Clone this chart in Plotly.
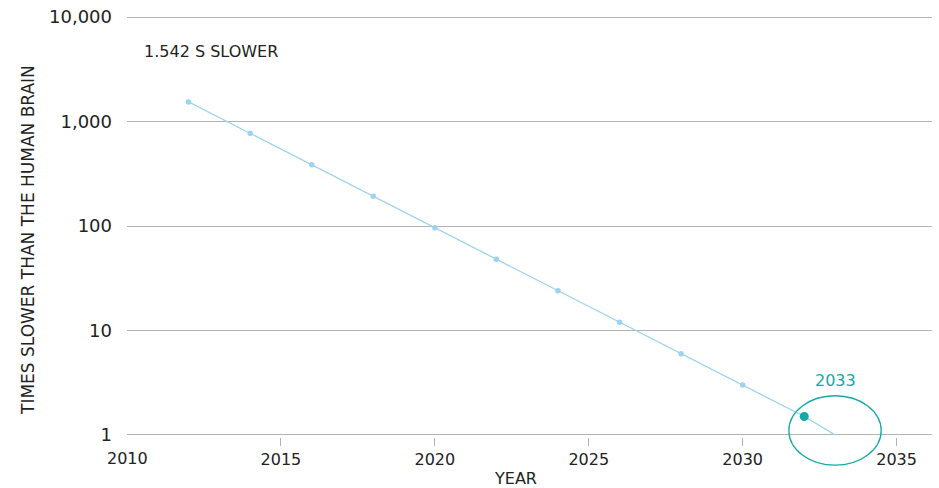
import plotly.graph_objects as go

# 데이터
years = [2012, 2014, 2016, 2018, 2020, 2022, 2024, 2026, 2028, 2030]
times_slower = [1542, 771, 385, 193, 96, 48, 24, 12, 6, 3]
trend_years = [2012, 2014, 2016, 2018, 2020, 2022, 2024, 2026, 2028, 2030, 2032, 2033]
trend_values = [1542, 771, 385, 193, 96, 48, 24, 12, 6, 3, 1.5, 1]
highlight_year = [2032]
highlight_value = [1.5]
y_ticks = [1, 10, 100, 1000, 10000]
y_ticktext = ['1', '10', '100', '1,000', '10,000']
x_ticks = [2015, 2020, 2025, 2030, 2035]

X_RANGE = [2010, 2036.15]
Y_RANGE = [-0.02, 4.02]  # log10, 양 끝 눈금선이 보이도록 여유

LINE_BLUE = '#9dd3ee'
TEAL = '#13aaa6'
GRID = '#b3b3b3'
FONT = 'DejaVu Sans'
TEXT = '#222222'

fig = go.Figure()

fig.add_trace(go.Scatter(x=trend_years, y=trend_values, mode='lines',
                         line=dict(color=LINE_BLUE, width=1.3),
                         hoverinfo='skip', showlegend=False))
fig.add_trace(go.Scatter(x=years, y=times_slower, mode='markers',
                         marker=dict(color=LINE_BLUE, size=5.5),
                         showlegend=False))
fig.add_trace(go.Scatter(x=highlight_year, y=highlight_value, mode='markers',
                         marker=dict(color=TEAL, size=9),
                         cliponaxis=False, showlegend=False))


def to_paper_x(v):
    return (v - X_RANGE[0]) / (X_RANGE[1] - X_RANGE[0])


def to_paper_y(logv):
    return (logv - Y_RANGE[0]) / (Y_RANGE[1] - Y_RANGE[0])


# 2033 강조 원 (플롯 영역 밖까지 그려지도록 paper 좌표 사용)
fig.add_shape(type='circle', xref='paper', yref='paper',
              x0=to_paper_x(2031.5), x1=to_paper_x(2034.5),
              y0=to_paper_y(-0.29), y1=to_paper_y(0.375),
              line=dict(color=TEAL, width=1.3))

fig.add_annotation(x=2033, y=0.517, xref='x', yref='y', text='2033',
                   showarrow=False, xanchor='center', yanchor='middle',
                   font=dict(family=FONT, size=16, color=TEAL))
fig.add_annotation(x=to_paper_x(2010.49), y=to_paper_y(3.675),
                   xref='paper', yref='paper',
                   text='1.542 S SLOWER', showarrow=False,
                   xanchor='left', yanchor='middle',
                   font=dict(family=FONT, size=16, color=TEXT))
fig.add_annotation(x=to_paper_x(2022.63), y=to_paper_y(-0.42),
                   xref='paper', yref='paper', text='YEAR',
                   showarrow=False, xanchor='center', yanchor='middle',
                   font=dict(family=FONT, size=16, color=TEXT))
fig.add_annotation(x=-0.123, y=to_paper_y(1.866), xref='paper', yref='paper',
                   text='TIMES SLOWER THAN THE HUMAN BRAIN', textangle=-90,
                   showarrow=False, xanchor='center', yanchor='middle',
                   font=dict(family=FONT, size=17, color=TEXT))
# 2010 라벨 (눈금선 없이)
fig.add_annotation(x=2010, y=to_paper_y(-0.23), xref='x', yref='paper', text='2010',
                   showarrow=False, xanchor='center', yanchor='middle',
                   font=dict(family=FONT, size=16, color=TEXT))

fig.update_xaxes(range=X_RANGE, tickvals=x_ticks, showgrid=False,
                 zeroline=False, showline=False,
                 ticks='outside', ticklen=8, tickcolor=GRID,
                 ticklabelstandoff=0,
                 tickfont=dict(family=FONT, size=16, color=TEXT))
fig.update_yaxes(type='log', range=Y_RANGE, tickvals=y_ticks,
                 ticktext=y_ticktext, showgrid=True, gridcolor=GRID,
                 gridwidth=1, zeroline=False, showline=False, ticks='',
                 ticklabelstandoff=14,
                 tickfont=dict(family=FONT, size=18, color=TEXT))

fig.update_layout(width=939, height=488,
                  margin=dict(l=127, r=7, t=15, b=51),
                  plot_bgcolor='white', paper_bgcolor='white',
                  showlegend=False)

# body 기본 여백(8px) 제거
fig.write_html("out.html", config={'displayModeBar': False},
               post_script="document.body.style.margin='0px';")
